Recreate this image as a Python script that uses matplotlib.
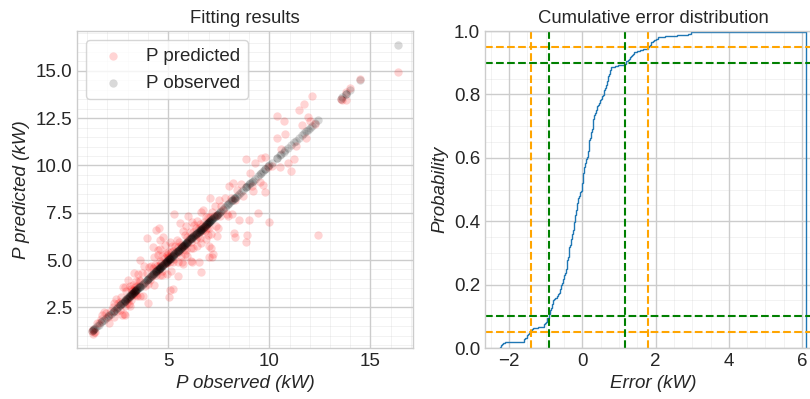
import numpy as np
import matplotlib
matplotlib.use('Agg')
import matplotlib.pyplot as plt

plt.style.use('seaborn-v0_8-whitegrid')
plt.rcParams['font.family'] = ['Liberation Sans', 'DejaVu Sans']

# observed power (kW) and fitting error = observed - predicted (kW)
p_obs = [
    3.93, 10.40, 4.42, 4.55, 5.30,
    10.73, 12.10, 11.72, 8.84, 11.47, 4.75, 4.62, 4.25, 3.60, 5.60, 6.00,
    7.07,
    10.38, 4.50, 4.58, 4.82, 3.32, 3.00, 6.60, 6.70, 8.00, 5.90,
    10.80, 3.80, 8.20, 2.75, 4.30, 5.10, 9.30, 9.60, 4.48, 6.20, 5.75, 3.50,
    2.85, 7.50, 9.80,
    11.90, 3.70, 5.45, 6.45, 4.05, 7.30, 9.05,
    2.40, 4.15, 5.20, 6.30, 11.60, 3.10, 4.70, 5.85, 7.80, 3.40, 4.90, 6.85, 2.92, 5.55, 8.60,
    2.30, 3.25, 4.35, 5.00, 6.10, 7.15, 1.85, 3.55, 4.60, 5.35, 6.55, 12.00, 2.68, 3.95, 4.95, 6.95, 8.40, 1.75,
    3.15, 4.25, 5.15, 6.40, 2.25, 3.60, 4.85, 5.95, 7.60, 10.60, 1.95, 6.75,
    2.52, 3.35, 4.45, 5.25, 6.25, 7.05, 1.70, 3.45, 4.65, 5.50, 6.50, 8.10, 2.15, 3.20, 4.98, 1.50, 5.65, 6.65,
    2.62, 3.28, 13.77, 4.55, 5.05, 14.50, 14.00, 1.58, 6.05, 7.25,
    1.30, 3.38, 4.40, 5.70, 6.90,
    2.95, 4.78, 13.52, 5.40, 6.35, 1.25, 3.30, 7.40, 4.88, 5.80, 6.80, 9.95, 3.05, 4.20, 5.95, 6.60, 7.70, 12.25,
    2.05, 3.22, 4.92, 1.33, 5.55, 6.70, 13.60, 8.30, 4.10, 10.15,
    1.28, 2.45, 3.36, 4.38, 5.08, 6.15, 6.92, 1.38, 3.85, 5.78, 2.97, 6.48, 7.55, 9.15, 11.30,
    2.60, 3.42, 4.68, 5.30, 6.38, 7.00, 2.88, 4.02, 5.22, 6.82, 8.70, 3.18, 13.77, 5.88, 11.80,
    2.32, 3.48, 4.58, 6.58, 9.55, 5.62, 3.08, 7.90, 2.10, 6.12,
    4.72, 3.62, 5.82, 7.35, 9.20,
    3.12, 5.48, 6.22, 4.28, 10.55, 7.95, 6.98, 2.72,
    2.80, 3.75, 4.96, 5.12, 5.92, 6.42, 6.62, 7.10, 7.45, 8.15, 9.70, 2.85, 10.90, 6.88, 5.68,
    11.22, 5.75, 7.40,
    6.15, 9.80, 4.00,
    7.00, 6.18, 11.06, 5.50, 8.50,
    16.35, 7.12, 6.50, 5.08,
    5.24, 8.26, 7.02, 7.20,
    9.00, 9.42, 7.15, 5.06, 8.28,
    6.64,
    8.92, 8.84, 10.00,
    12.40,
]
p_err = [
    -2.24, -2.22, -2.18, -2.15, -2.11,
    -1.60, -1.58, -1.55, -1.52, -1.49, -1.46, -1.44, -1.42, -1.40, -1.37, -1.34,
    -1.20,
    -1.05, -1.03, -1.01, -0.99, -0.97, -0.95, -0.94, -0.92, -0.91, -0.89,
    -0.88, -0.87, -0.86, -0.85, -0.84, -0.83, -0.82, -0.81, -0.80, -0.79, -0.78, -0.77,
    -0.74, -0.70, -0.66,
    -0.64, -0.63, -0.61, -0.60, -0.59, -0.58, -0.57,
    -0.56, -0.55, -0.54, -0.53, -0.52, -0.51, -0.50, -0.49, -0.48, -0.47, -0.46, -0.45, -0.44, -0.43, -0.42,
    -0.41, -0.41, -0.40, -0.40, -0.39, -0.39, -0.38, -0.38, -0.37, -0.37, -0.36, -0.36, -0.35, -0.35, -0.34, -0.34, -0.33, -0.33,
    -0.32, -0.31, -0.30, -0.30, -0.29, -0.28, -0.27, -0.27, -0.26, -0.25, -0.25, -0.24,
    -0.23, -0.23, -0.22, -0.22, -0.21, -0.21, -0.20, -0.20, -0.19, -0.19, -0.18, -0.18, -0.17, -0.17, -0.16, -0.16, -0.15, -0.15,
    -0.14, -0.13, -0.13, -0.12, -0.11, -0.10, -0.09, -0.08, -0.08, -0.07,
    -0.05, -0.04, -0.03, -0.02, -0.01,
    0.00, 0.00, 0.01, 0.01, 0.02, 0.02, 0.02, 0.03, 0.03, 0.04, 0.04, 0.04, 0.05, 0.05, 0.06, 0.06, 0.06, 0.07,
    0.08, 0.09, 0.10, 0.11, 0.12, 0.13, 0.14, 0.15, 0.15, 0.16,
    0.17, 0.17, 0.18, 0.18, 0.19, 0.19, 0.20, 0.20, 0.21, 0.21, 0.22, 0.22, 0.23, 0.24, 0.25,
    0.26, 0.26, 0.27, 0.27, 0.28, 0.28, 0.29, 0.29, 0.30, 0.30, 0.31, 0.31, 0.32, 0.33, 0.34,
    0.35, 0.36, 0.38, 0.39, 0.40, 0.41, 0.42, 0.44, 0.45, 0.47,
    0.49, 0.51, 0.52, 0.54, 0.56,
    0.57, 0.58, 0.59, 0.60, 0.61, 0.62, 0.63, 0.65,
    0.66, 0.67, 0.68, 0.69, 0.70, 0.70, 0.71, 0.72, 0.73, 0.74, 0.75, 0.76, 0.77, 0.78, 0.79,
    0.88, 0.98, 1.14,
    1.18, 1.21, 1.25,
    1.28, 1.30, 1.33, 1.35, 1.38,
    1.42, 1.50, 1.58, 1.66,
    1.78, 1.82, 1.85, 1.87,
    1.89, 1.93, 1.97, 2.03, 2.08,
    2.25,
    2.60, 2.90, 2.98,
    6.10,
]

p_obs = np.array(p_obs)
p_err = np.array(p_err)
p_pred = p_obs - p_err

fs = 13.5
fig = plt.figure(figsize=(8.1, 3.99), dpi=100)
ax1 = fig.add_axes([0.0951, 0.1278, 0.4148, 0.7945])
ax2 = fig.add_axes([0.5988, 0.1278, 0.4148, 0.7945])

# left: predicted vs observed
ax1.scatter(p_obs, p_pred, c='r', alpha=0.17, linewidths=0, label='P predicted')
ax1.scatter(p_obs, p_obs, c='k', alpha=0.15, linewidths=0, label='P observed')
ax1.set_title('Fitting results', fontsize=13.3, color='.15')
ax1.set_xlabel('P observed (kW)', style='italic', fontsize=fs, color='.15')
ax1.set_ylabel('P predicted (kW)', style='italic', fontsize=fs, color='.15')
ax1.legend(loc='upper left', frameon=True, fontsize=fs)

# right: cumulative error distribution
ax2.hist(p_err, bins=500, cumulative=True, density=True, histtype='step')
q05, q10, q90, q95 = np.percentile(p_err, [5, 10, 90, 95])
for q in (q05, q95):
    ax2.axvline(q, color='orange', ls='--', lw=1.5)
for p in (0.05, 0.95):
    ax2.axhline(p, color='orange', ls='--', lw=1.5)
for q in (q10, q90):
    ax2.axvline(q, color='green', ls='--', lw=1.5)
for p in (0.1, 0.9):
    ax2.axhline(p, color='green', ls='--', lw=1.5)
ax2.set_ylim(0, 1)
ax2.set_title('Cumulative error distribution', fontsize=13.3, color='.15')
ax2.set_xlabel('Error (kW)', style='italic', fontsize=fs, color='.15')
ax2.set_ylabel('Probability', style='italic', fontsize=fs, color='.15')

for ax in (ax1, ax2):
    ax.minorticks_on()
    ax.grid(which='major', color='.8', linewidth=1)
    ax.grid(which='minor', color='.8', linewidth=0.6, alpha=0.3)
    ax.tick_params(labelsize=fs, labelcolor='.15')

plt.savefig('out.png', dpi=100)
